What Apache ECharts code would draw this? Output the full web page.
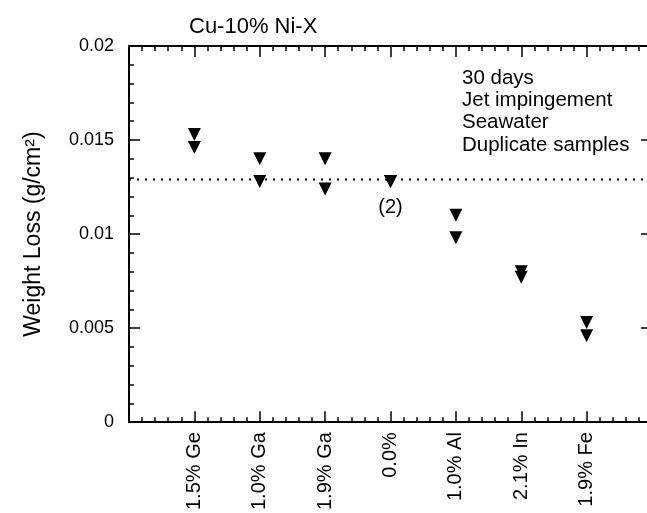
<!DOCTYPE html>
<html>
<head>
<meta charset="utf-8">
<script src="https://cdn.jsdelivr.net/npm/echarts@6/dist/echarts.min.js"></script>
<style>html,body{margin:0;padding:0;background:#fff;overflow:hidden;}#c{width:660px;height:513px;}</style>
</head>
<body>
<div id="c"></div>
<script>
var categories = ['1.5% Ge', '1.0% Ga', '1.9% Ga', '0.0%', '1.0% Al', '2.1% In', '1.9% Fe'];
var sampleA = [0.0153, 0.0140, 0.0140, 0.0128, 0.0110, 0.0080, 0.0053];
var sampleB = [0.0146, 0.0128, 0.0124, 0.0128, 0.0098, 0.0077, 0.0046];
var referenceLevel = 0.0129;
var xRange = [0, 8];
var yTicks = [0, 0.005, 0.01, 0.015, 0.02];
var notes = ['30 days', 'Jet impingement', 'Seawater', 'Duplicate samples'];

var FONT = '"Liberation Sans", Arial, Helvetica, sans-serif';
var chart = echarts.init(document.getElementById('c'), null, {renderer: 'canvas'});

function pts(arr) { return arr.map(function (v, i) { return [i + 1, v]; }); }
var ptsB = pts(sampleB).map(function (p, i) {
  if (categories[i] === '0.0%') {
    return {value: p, label: {show: true, formatter: '(2)', position: 'bottom', distance: 10,
      color: '#000', fontSize: 20, fontFamily: FONT}};
  }
  return p;
});

function axisCommon() {
  return {
    axisLine: {show: true, onZero: false, lineStyle: {color: '#000', width: 2}},
    axisTick: {show: true, inside: true, length: 11, lineStyle: {color: '#000', width: 1.5}},
    minorTick: {show: true, splitNumber: 5, length: 5, lineStyle: {color: '#000', width: 1.5}},
    splitLine: {show: false},
    minorSplitLine: {show: false}
  };
}
function ext(a, b) { for (var k in b) a[k] = b[k]; return a; }

var option = {
  backgroundColor: '#fff',
  animation: false,
  title: {
    text: 'Cu-10% Ni-X', left: 184, top: 11,
    textStyle: {fontSize: 22, fontWeight: 'normal', color: '#000', fontFamily: FONT}
  },
  graphic: [{
    type: 'text', left: 462, top: 67,
    style: {text: notes.join('\n'), fontSize: 20.5, lineHeight: 22.3, fill: '#000', fontFamily: FONT}
  }],
  grid: {left: 129, right: 8, top: 46, bottom: 90.5},
  xAxis: [
    ext(axisCommon(), {
      type: 'value', min: xRange[0], max: xRange[1], interval: 1, position: 'bottom',
      axisLabel: {
        rotate: 90, margin: 10, fontSize: 20, color: '#000', fontFamily: FONT,
        formatter: function (v) { return categories[v - 1] || ''; }
      }
    }),
    ext(axisCommon(), {
      type: 'value', min: xRange[0], max: xRange[1], interval: 1, position: 'top',
      axisLabel: {show: false}
    })
  ],
  yAxis: [
    ext(axisCommon(), {
      type: 'value', min: yTicks[0], max: yTicks[yTicks.length - 1], interval: yTicks[1] - yTicks[0],
      position: 'left',
      name: 'Weight Loss (g/cm²)', nameLocation: 'middle', nameGap: 84,
      nameTextStyle: {fontSize: 23, color: '#000', fontFamily: FONT},
      axisLabel: {margin: 15, fontSize: 18, color: '#000', fontFamily: FONT}
    }),
    ext(axisCommon(), {
      type: 'value', min: yTicks[0], max: yTicks[yTicks.length - 1], interval: yTicks[1] - yTicks[0],
      position: 'right',
      axisLabel: {show: false}
    })
  ],
  series: [
    {
      type: 'line', data: [[xRange[0], referenceLevel], [xRange[1], referenceLevel]],
      symbol: 'none', silent: true,
      lineStyle: {color: '#000', type: [2, 6], width: 2}
    },
    {
      type: 'scatter', data: pts(sampleA), symbol: 'triangle', symbolRotate: 180, symbolSize: 13,
      itemStyle: {color: '#000', opacity: 1}
    },
    {
      type: 'scatter', data: ptsB, symbol: 'triangle', symbolRotate: 180, symbolSize: 13,
      itemStyle: {color: '#000', opacity: 1}
    }
  ]
};
chart.setOption(option);
</script>
</body>
</html>
